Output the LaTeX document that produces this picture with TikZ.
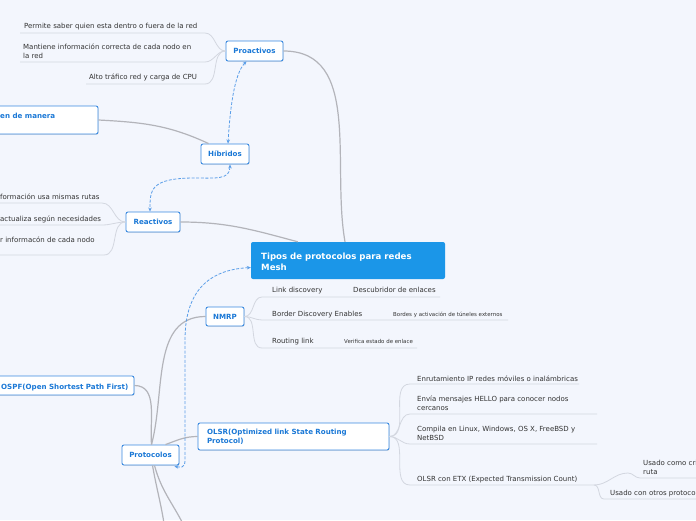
\documentclass[tikz,border=0pt]{standalone}
\usepackage{fontspec}
\setmainfont{DejaVu Sans}
\usetikzlibrary{arrows.meta,shadows,calc}
\definecolor{bg}{HTML}{F3F6FD}
\definecolor{bord}{HTML}{3A8AE0}
\definecolor{tblue}{HTML}{1A78D6}
\definecolor{mainf}{HTML}{1B96E8}
\definecolor{connc}{HTML}{B3B4BA}
\definecolor{uline}{HTML}{D3D7E0}
\definecolor{txt}{HTML}{333333}
\definecolor{dashc}{HTML}{5A9EE8}
\begin{document}
\begin{tikzpicture}[x=1pt,y=-1pt,
 topic/.style={draw=bord, fill=white, rounded corners=2pt, line width=0.9pt,
   font=\bfseries\fontsize{7.1}{9}\selectfont, text=tblue, inner sep=0pt,
   drop shadow={shadow xshift=0.6pt, shadow yshift=-0.8pt, opacity=0.2}},
 ttext/.style={font=\bfseries\fontsize{7.1}{9}\selectfont, text=tblue, inner sep=0pt, anchor=base west, yshift=-0.6pt},
 leaf/.style={font=\fontsize{7}{9}\selectfont, text=txt, inner sep=0pt, anchor=base west, align=left, yshift=-0.8pt},
 small/.style={font=\fontsize{5.45}{6}\selectfont, text=txt, inner sep=0pt, anchor=base west, yshift=-0.6pt},
 conn/.style={draw=connc, line width=1.2pt},
 ul/.style={draw=uline, line width=0.8pt},
 dsh/.style={draw=dashc, dash pattern=on 3pt off 1.6pt, line width=0.8pt, {Stealth[length=4pt,width=3.5pt]}-{Stealth[length=4pt,width=3.5pt]}}]
\fill[bg] (0,0) rectangle (696,520);
\useasboundingbox (0,0) rectangle (696,520);

\coordinate (d1) at (165,530);
\coordinate (d2) at (186,530);

% ---------- topic nodes ----------
\node[fill=mainf, rounded corners=2pt, minimum width=194pt, minimum height=37pt, inner sep=0pt] (main) at (348,260.5) {};
\node[anchor=base west, font=\bfseries\fontsize{8.6}{11.5}\selectfont, text=white, align=left, inner sep=0pt] (maint) at (261,270.5) {Tipos de protocolos para redes\\Mesh};

\node[topic, minimum width=57pt, minimum height=20pt] (pro) at (254.5,51) {Proactivos};
\node[topic, minimum width=48pt, minimum height=20pt] (hib) at (225,154) {Híbridos};
\node[topic, minimum width=54pt, minimum height=20pt] (rea) at (153,222) {Reactivos};
\node[topic, minimum width=120pt, minimum height=28pt] (sem) at (38,120) {};
\node[ttext] (semt) at (0,117.5) {en de manera};

\node[topic, minimum width=38pt, minimum height=19pt] (nmrp) at (225,316.5) {NMRP};
\node[topic, minimum width=57pt, minimum height=20pt] (prot) at (150.5,455) {Protocolos};
\node[topic, minimum width=154pt, minimum height=19pt] (ospf) at (57,385.5) {};
\node[ttext] (ospft) at (1,388.5) {OSPF(Open Shortest Path First)};
\node[topic, minimum width=191pt, minimum height=27pt, text width=173pt, inner xsep=9pt, align=left] (olsr) at (293.5,436.5) {OLSR(Optimized link State Routing\\Protocol)};

% main branches
\draw[conn] (pro.east) to[out=0,in=100] ($(main.north)+(-3,0)$);
\draw[conn] (rea.east) to[out=0,in=165] ($(main.north west)+(47,0)$);
\draw[conn] (sem.east) to[out=-3,in=155] ($(hib.north west)+(8,0)$);
\draw[conn] (ospf.east) to[out=0,in=95] ($(prot.north)+(1,0)$);
\draw[conn] ($(prot.north)+(1,0)$) to[out=75,in=180] (nmrp.west);
\draw[conn] ($(prot.north)+(15,0)$) to[out=20,in=180] (olsr.west);
\draw[conn] ($(prot.south)+(2,0)$) to[out=-80,in=98] (d1);
\draw[conn] ($(prot.south)+(4,0)$) to[out=-75,in=115] (d2);

% ---------- dashed relations ----------
\draw[dsh] ($(pro.south)+(-8,0)$) .. controls (234,74) and (230,110) .. ($(hib.north)+(3,0)$);
\draw[dsh] ($(hib.south)+(5,0)$) .. controls (230,180) and (215,178) .. (195,178) .. controls (150,178) and (150,190) .. ($(rea.north)+(-3,0)$);
\draw[dsh] ($(prot.south east)+(-5,1)$) .. controls (186,468) and (185,466) .. (185,450) -- (185,340) .. controls (185,295) and (205,270) .. ($(main.west)+(0,7)$);

% ---------- Proactivos leaves ----------
\node[leaf] (p1) at (24,27.5) {Permite saber quien esta dentro o fuera de la red};
\node[leaf] (p2) at (23,57.5) {Mantiene información correcta de cada nodo en\\la red};
\node[leaf] (p3) at (89,78.5) {Alto tráfico red y carga de CPU};
\draw[ul] (20,33) -- (205,33) to[out=0,in=180] (pro.west);
\draw[ul] (20,62) -- (205,62) to[out=0,in=180] (pro.west);
\draw[ul] (86,84) -- (205,84) to[out=0,in=180] (pro.west);

% ---------- Reactivos leaves ----------
\node[leaf] (r1) at (0,198.5) {formación usa mismas rutas};
\node[leaf] (r2) at (0,220.5) {actualiza según necesidades};
\node[leaf] (r3) at (0,241.5) {r informacón de cada nodo};
\draw[ul] (0,203) -- (102,203) to[out=0,in=180] (rea.west);
\draw[ul] (0,225) -- (102,225) to[out=0,in=180] (rea.west);
\draw[ul] (0,255) -- (104,255) to[out=0,in=180] (rea.west);

% ---------- NMRP leaves ----------
\node[leaf] (n1) at (272,291.5) {Link discovery};
\node[leaf] (n1c) at (353,291.5) {Descubridor de enlaces};
\node[leaf] (n2) at (272,315.5) {Border Discovery Enables};
\node[small] (n2c) at (393,316) {Bordes y activación de túneles externos};
\node[leaf] (n3) at (272,342.5) {Routing link};
\node[small] (n3c) at (344,343) {Verifica estado de enlace};
\draw[ul] (nmrp.east) to[out=0,in=180] (262,297) -- (440,297);
\draw[ul] (nmrp.east) to[out=0,in=180] (262,320) -- (508,320);
\draw[ul] (nmrp.east) to[out=0,in=180] (262,348) -- (417,348);

% ---------- OLSR leaves ----------
\node[leaf] (o1) at (417,380.5) {Enrutamiento IP redes móviles o inalámbricas};
\node[leaf] (o2) at (417,410) {Envía mensajes HELLO para conocer nodos\\cercanos};
\node[leaf] (o3) at (417,439.5) {Compila en Linux, Windows, OS X, FreeBSD y\\NetBSD};
\node[leaf] (o4) at (417,480.5) {OLSR con ETX (Expected Transmission Count)};
\draw[ul] (olsr.east) to[out=0,in=180] (410,384) -- (579,384);
\draw[ul] (olsr.east) to[out=0,in=180] (410,414) -- (597,414);
\draw[ul] (olsr.east) to[out=0,in=180] (410,444) -- (597,444);
\draw[ul] (olsr.east) to[out=0,in=180] (410,485) -- (594,485);

\node[leaf] (e1) at (643,473.5) {Usado como cri\\ruta};
\node[leaf] (e2) at (610,494.5) {Usado con otros protoco};
\draw[ul] (594,485) to[out=0,in=180] (628,473) to[out=0,in=180] (640,478) -- (700,478);
\draw[ul] (594,485) to[out=0,in=180] (604,499) -- (700,499);
\end{tikzpicture}
\end{document}
